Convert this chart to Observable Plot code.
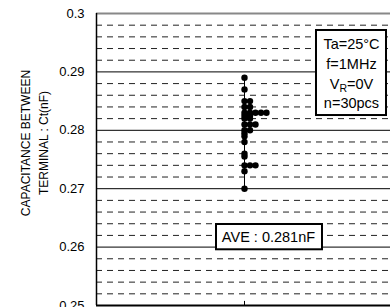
<!DOCTYPE html>
<html><head><meta charset="utf-8">
<script src="https://cdn.jsdelivr.net/npm/d3@7"></script>
<script src="https://cdn.jsdelivr.net/npm/@observablehq/plot@0.6"></script>
<style>body{margin:0;background:#fff;overflow:hidden} svg{display:block}</style>
</head><body><div id="chart"></div>
<script>
// measured capacitance values (nF) and how many of the 30 pieces share each value
const values = [0.289, 0.287, 0.285, 0.284, 0.283, 0.2825, 0.282, 0.281, 0.280, 0.2795, 0.279, 0.278, 0.276, 0.2755, 0.274, 0.273, 0.270];
const counts = [1, 1, 2, 2, 5, 2, 2, 3, 2, 1, 1, 1, 1, 1, 3, 1, 1];
const yTicks = [0.25, 0.26, 0.27, 0.28, 0.29, 0.3];
const yTickLabels = ["0.25", "0.26", "0.27", "0.28", "0.29", "0.3"];
const conditions = ["Ta=25°C", "f=1MHz", "VR=0V", "n=30pcs"];
const average = "0.281";
const yTitle = ["CAPACITANCE BETWEEN", "TERMINAL : Ct(nF)"];

const dots = [];
values.forEach((v, i) => { for (let k = 0; k < counts[i]; k++) dots.push({v, k}); });
const minorGrid = d3.range(126, 150).filter(i => i % 5 !== 0).map(i => i / 500);
const xMin = -148 / 5.5, xMax = 146 / 5.5;

const chart = Plot.plot({
  width: 390, height: 307,
  marginLeft: 96, marginRight: 0, marginTop: 13, marginBottom: 2,
  style: {fontFamily: "'Liberation Sans', Arial, sans-serif", fontSize: "13px", background: "#fff", overflow: "visible", color: "#000"},
  x: {domain: [xMin, xMax], axis: null},
  y: {domain: [0.25, 0.3], ticks: yTicks, tickFormat: d => yTickLabels[yTicks.indexOf(d)], tickSize: 0, tickPadding: 12, label: null},
  marks: [
    Plot.ruleY(minorGrid, {stroke: "#222", strokeWidth: 1, strokeDasharray: "6,5"}),
    Plot.ruleY(yTicks.slice(1, -1), {stroke: "#000", strokeWidth: 1}),
    Plot.ruleY([0.3], {stroke: "#888", strokeWidth: 2}),
    Plot.ruleY([0.25], {stroke: "#000", strokeWidth: 2}),
    Plot.ruleX([xMin], {stroke: "#000", strokeWidth: 1.5}),
    Plot.ruleX([0], {y1: d3.min(values), y2: d3.max(values), stroke: "#000"}),
    Plot.dot(dots, {x: "k", y: "v", r: 3.2, fill: "#000", stroke: null}),
    Plot.ruleX([0], {y1: 0.25, y2: 0.2507, stroke: "#000"}),
    Plot.rect([0], {x1: 13.09, x2: 25.82, y1: 0.29709, y2: 0.28253, fill: "#fff", stroke: "#000", strokeWidth: 2}),
    Plot.text([conditions.join("\n")], {text: d => d, x: 19.45, y: 0.28992, lineHeight: 1.36, fontSize: 14.5}),
    Plot.rect([0], {x1: -5.09, x2: 14.18, y1: 0.26387, y2: 0.25954, fill: "#fff", stroke: "#000", strokeWidth: 2}),
    Plot.text([`AVE : ${average}nF`], {text: d => d, x: 4.36, y: 0.26173, fontSize: 14.5}),
    Plot.text([yTitle.join("\n")], {text: d => d, x: (33 - 244) / 5.5, y: 0.3 - 129.5 / 5840, rotate: -90, lineHeight: 1.45, fontSize: 12, textAnchor: "middle"})
  ]
});
// subscript R in VR
d3.select(chart).selectAll("tspan").filter(function () { return this.textContent === "VR=0V"; })
  .html('V<tspan dy="3" font-size="10.5">R</tspan><tspan dy="-3">=0V</tspan>');
document.getElementById("chart").append(chart);
</script>
</body></html>
